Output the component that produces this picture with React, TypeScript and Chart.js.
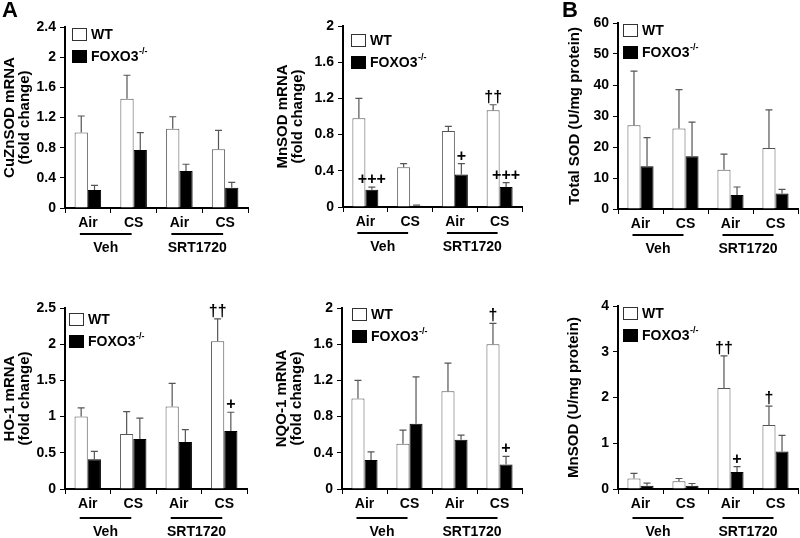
import React, { useEffect, useRef } from 'react';
import { Chart, registerables } from 'chart.js';

Chart.register(...registerables);

// ---------- data ----------
const categories = ['Air', 'CS', 'Air', 'CS'];
const groupLabels = ['Veh', 'SRT1720'];
const seriesLabels = ['WT', 'FOXO3'];

// A: CuZnSOD mRNA (fold change)
const cuznsodWT = [1.0, 1.45, 1.05, 0.78];
const cuznsodWTErr = [0.22, 0.31, 0.16, 0.25];
const cuznsodKO = [0.24, 0.77, 0.49, 0.27];
const cuznsodKOErr = [0.06, 0.23, 0.09, 0.07];
const cuznsodWTMarks = ['', '', '', ''];
const cuznsodKOMarks = ['', '', '', ''];

// A: MnSOD mRNA (fold change)
const mnsodWT = [0.98, 0.44, 0.84, 1.07];
const mnsodWTErr = [0.22, 0.04, 0.05, 0.06];
const mnsodKO = [0.19, 0.015, 0.36, 0.22];
const mnsodKOErr = [0.03, 0.005, 0.12, 0.05];
const mnsodWTMarks = ['', '', '', '††'];
const mnsodKOMarks = ['+++', '', '+', '+++'];

// B: Total SOD (U/mg protein)
const totalSodWT = [27, 26, 12.7, 19.7];
const totalSodWTErr = [17.5, 12.5, 5, 12.3];
const totalSodKO = [13.8, 17, 4.5, 5];
const totalSodKOErr = [9.2, 11, 2.6, 1.3];
const totalSodWTMarks = ['', '', '', ''];
const totalSodKOMarks = ['', '', '', ''];

// A: HO-1 mRNA (fold change)
const ho1WT = [1.0, 0.76, 1.14, 2.04];
const ho1WTErr = [0.12, 0.31, 0.32, 0.31];
const ho1KO = [0.41, 0.69, 0.65, 0.8];
const ho1KOErr = [0.11, 0.29, 0.17, 0.26];
const ho1WTMarks = ['', '', '', '††'];
const ho1KOMarks = ['', '', '', '+'];

// A: NQO-1 mRNA (fold change)
const nqo1WT = [1.0, 0.5, 1.08, 1.6];
const nqo1WTErr = [0.2, 0.15, 0.31, 0.23];
const nqo1KO = [0.32, 0.72, 0.545, 0.27];
const nqo1KOErr = [0.09, 0.52, 0.05, 0.09];
const nqo1WTMarks = ['', '', '', '†'];
const nqo1KOMarks = ['', '', '', '+'];

// B: MnSOD activity (U/mg protein)
const mnsodActWT = [0.23, 0.17, 2.21, 1.4];
const mnsodActWTErr = [0.11, 0.06, 0.7, 0.41];
const mnsodActKO = [0.07, 0.07, 0.37, 0.82];
const mnsodActKOErr = [0.06, 0.05, 0.12, 0.35];
const mnsodActWTMarks = ['', '', '††', '†'];
const mnsodActKOMarks = ['', '', '+', ''];

// ---------- layout ----------
const FONT = '"Liberation Sans", Arial, Helvetica, sans-serif';

type PanelCfg = {
  x: number; y: number; w: number; h: number;
  yW: number; xH: number; padTop: number; padRight: number;
  max: number; step: number;
  title: string | string[]; titlePad: number;
  wt: number[]; wtErr: number[]; ko: number[]; koErr: number[];
  wtMarks: string[]; koMarks: string[];
  legendDx: number; legendDy: number;
  lineDy: number; groupDy: number;
  letter?: string; letterX?: number; letterY?: number;
};

const panels: PanelCfg[] = [
  {
    x: 0, y: 0, w: 262, h: 262, yW: 65, xH: 54, padTop: 27, padRight: 14,
    max: 2.4, step: 0.4, title: ['CuZnSOD mRNA', '(fold change)'], titlePad: 2,
    wt: cuznsodWT, wtErr: cuznsodWTErr, ko: cuznsodKO, koErr: cuznsodKOErr,
    wtMarks: cuznsodWTMarks, koMarks: cuznsodKOMarks,
    legendDx: 7, legendDy: 1, lineDy: 26, groupDy: 40,
    letter: 'A', letterX: 2, letterY: 0,
  },
  {
    x: 270, y: 0, w: 262, h: 262, yW: 73, xH: 55, padTop: 26, padRight: 10,
    max: 2, step: 0.4, title: ['MnSOD mRNA', '(fold change)'], titlePad: 5,
    wt: mnsodWT, wtErr: mnsodWTErr, ko: mnsodKO, koErr: mnsodKOErr,
    wtMarks: mnsodWTMarks, koMarks: mnsodKOMarks,
    legendDx: 8, legendDy: 8, lineDy: 26, groupDy: 40,
  },
  {
    x: 540, y: 0, w: 260, h: 262, yW: 78, xH: 53, padTop: 23, padRight: 2,
    max: 60, step: 10, title: 'Total SOD (U/mg protein)', titlePad: 27,
    wt: totalSodWT, wtErr: totalSodWTErr, ko: totalSodKO, koErr: totalSodKOErr,
    wtMarks: totalSodWTMarks, koMarks: totalSodKOMarks,
    legendDx: 5, legendDy: 1, lineDy: 26, groupDy: 40,
    letter: 'B', letterX: 22, letterY: 0,
  },
  {
    x: 0, y: 262, w: 262, h: 276, yW: 65, xH: 49, padTop: 46, padRight: 15,
    max: 2.5, step: 0.5, title: ['HO-1 mRNA', '(fold change)'], titlePad: 2,
    wt: ho1WT, wtErr: ho1WTErr, ko: ho1KO, koErr: ho1KOErr,
    wtMarks: ho1WTMarks, koMarks: ho1KOMarks,
    legendDx: 4, legendDy: 5, lineDy: 29, groupDy: 43,
  },
  {
    x: 270, y: 262, w: 262, h: 276, yW: 72, xH: 49, padTop: 46, padRight: 10,
    max: 2, step: 0.4, title: ['NQO-1 mRNA', '(fold change)'], titlePad: 4,
    wt: nqo1WT, wtErr: nqo1WTErr, ko: nqo1KO, koErr: nqo1KOErr,
    wtMarks: nqo1WTMarks, koMarks: nqo1KOMarks,
    legendDx: 10, legendDy: 0, lineDy: 29, groupDy: 43,
  },
  {
    x: 540, y: 262, w: 260, h: 276, yW: 78, xH: 49, padTop: 44, padRight: 2,
    max: 4, step: 1, title: 'MnSOD (U/mg protein)', titlePad: 26,
    wt: mnsodActWT, wtErr: mnsodActWTErr, ko: mnsodActKO, koErr: mnsodActKOErr,
    wtMarks: mnsodActWTMarks, koMarks: mnsodActKOMarks,
    legendDx: 5, legendDy: 1, lineDy: 29, groupDy: 43,
  },
];

const extrasPlugin = {
  id: 'panelExtras',
  afterDatasetsDraw(chart: any) {
    const ctx = chart.ctx;
    const ys = chart.scales.y;
    ctx.save();
    chart.data.datasets.forEach((ds: any, di: number) => {
      const meta = chart.getDatasetMeta(di);
      meta.data.forEach((el: any, i: number) => {
        const v = ds.data[i];
        const top = ys.getPixelForValue(v + ds.errors[i]);
        ctx.strokeStyle = '#555';
        ctx.lineWidth = 1.2;
        ctx.beginPath();
        ctx.moveTo(el.x, el.y);
        ctx.lineTo(el.x, top);
        ctx.moveTo(el.x - 3.5, top);
        ctx.lineTo(el.x + 3.5, top);
        ctx.stroke();
        const mark = ds.marks[i];
        if (mark) {
          ctx.fillStyle = '#000';
          ctx.font = `bold 16px ${FONT}`;
          ctx.textAlign = 'center';
          ctx.textBaseline = 'alphabetic';
          ctx.fillText(mark, el.x, top - 3);
        }
      });
    });
    ctx.restore();
  },
  afterDraw(chart: any, _args: any, opts: any) {
    const ctx = chart.ctx;
    const area = chart.chartArea;
    const xs = chart.scales.x;
    ctx.save();
    // legend
    const lx = area.left + opts.legendDx;
    const ly = area.top + opts.legendDy;
    const rows = [
      { fill: '#fff', stroke: '#333' },
      { fill: '#000', stroke: '#000' },
    ];
    rows.forEach((r, i) => {
      const by = ly + i * 22;
      ctx.fillStyle = r.fill;
      ctx.fillRect(lx, by, 15, 13);
      ctx.strokeStyle = r.stroke;
      ctx.lineWidth = 1;
      ctx.strokeRect(lx + 0.5, by + 0.5, 14, 12);
      ctx.fillStyle = '#000';
      ctx.font = `bold 14px ${FONT}`;
      ctx.textAlign = 'left';
      ctx.textBaseline = 'middle';
      const label = opts.seriesLabels[i];
      ctx.fillText(label, lx + 19, by + 7);
      if (i === 1) {
        const w = ctx.measureText(label).width;
        ctx.font = `bold 9px ${FONT}`;
        ctx.fillText('-/-', lx + 19 + w + 0.5, by + 1.5);
      }
    });
    // group underlines and labels
    const bottom = area.bottom;
    for (let g = 0; g < 2; g++) {
      const c0 = xs.getPixelForValue(g * 2);
      const c1 = xs.getPixelForValue(g * 2 + 1);
      const x0 = c0 - 8;
      const x1 = c1 - 2;
      ctx.strokeStyle = '#000';
      ctx.lineWidth = 2;
      ctx.beginPath();
      ctx.moveTo(x0, bottom + opts.lineDy);
      ctx.lineTo(x1, bottom + opts.lineDy);
      ctx.stroke();
      ctx.fillStyle = '#000';
      ctx.font = `bold 14px ${FONT}`;
      ctx.textAlign = 'center';
      ctx.textBaseline = 'middle';
      ctx.fillText(opts.groupLabels[g], (x0 + x1) / 2, bottom + opts.groupDy);
    }
    if (opts.letter) {
      ctx.fillStyle = '#000';
      ctx.font = `bold 22px ${FONT}`;
      ctx.textAlign = 'left';
      ctx.textBaseline = 'top';
      ctx.fillText(opts.letter, opts.letterX, opts.letterY);
    }
    ctx.restore();
  },
};

const fmtTick = (v: any) => String(Number(Number(v).toFixed(2)));

function Panel({ cfg }: { cfg: PanelCfg }) {
  const ref = useRef<HTMLCanvasElement>(null);
  useEffect(() => {
    if (!ref.current) return;
    const chart = new Chart(ref.current, {
      type: 'bar',
      data: {
        labels: categories,
        datasets: [
          {
            label: seriesLabels[0],
            data: cfg.wt,
            errors: cfg.wtErr,
            marks: cfg.wtMarks,
            backgroundColor: '#ffffff',
            borderColor: '#555555',
            borderWidth: 1,
          } as any,
          {
            label: seriesLabels[1],
            data: cfg.ko,
            errors: cfg.koErr,
            marks: cfg.koMarks,
            backgroundColor: '#000000',
            borderColor: '#000000',
            borderWidth: 1,
          } as any,
        ],
      },
      options: {
        responsive: false,
        animation: false,
        events: [],
        devicePixelRatio: 1,
        layout: { padding: { top: cfg.padTop, right: cfg.padRight, left: 0, bottom: 0 } },
        datasets: { bar: { categoryPercentage: 0.58, barPercentage: 1.0 } },
        scales: {
          x: {
            afterFit: (s: any) => { s.height = cfg.xH; },
            grid: { display: true, drawOnChartArea: false, drawTicks: true, tickLength: 5, offset: true, color: '#000', lineWidth: 1 },
            border: { display: true, color: '#000', width: 2 },
            ticks: { autoSkip: false, maxRotation: 0, padding: 2, color: '#000', font: { family: FONT, size: 14, weight: 'bold' } },
          },
          y: {
            min: 0,
            max: cfg.max,
            afterFit: (s: any) => { s.width = cfg.yW; },
            grid: { display: true, drawOnChartArea: false, drawTicks: true, tickLength: 5, color: '#000', lineWidth: 1 },
            border: { display: true, color: '#000', width: 2 },
            ticks: { stepSize: cfg.step, padding: 4, color: '#000', callback: fmtTick, font: { family: FONT, size: 14, weight: 'bold' } },
            title: {
              display: true,
              text: cfg.title,
              color: '#000',
              font: { family: FONT, size: 15, weight: 'bold', lineHeight: 1.0 },
              padding: { top: cfg.titlePad, bottom: 0 },
            },
          },
        },
        plugins: {
          legend: { display: false },
          tooltip: { enabled: false },
          panelExtras: {
            legendDx: cfg.legendDx,
            legendDy: cfg.legendDy,
            lineDy: cfg.lineDy,
            groupDy: cfg.groupDy,
            seriesLabels,
            groupLabels,
            letter: cfg.letter,
            letterX: cfg.letterX,
            letterY: cfg.letterY,
          },
        } as any,
      },
      plugins: [extrasPlugin],
    } as any);
    return () => chart.destroy();
  }, [cfg]);
  return (
    <div style={{ position: 'absolute', left: cfg.x, top: cfg.y, width: cfg.w, height: cfg.h }}>
      <canvas ref={ref} width={cfg.w} height={cfg.h} style={{ width: cfg.w, height: cfg.h, display: 'block' }} />
    </div>
  );
}

export default function App() {
  return (
    <div style={{ position: 'fixed', left: 0, top: 0, width: 800, height: 538, background: '#fff', overflow: 'hidden' }}>
      {panels.map((p, i) => (
        <Panel key={i} cfg={p} />
      ))}
    </div>
  );
}
